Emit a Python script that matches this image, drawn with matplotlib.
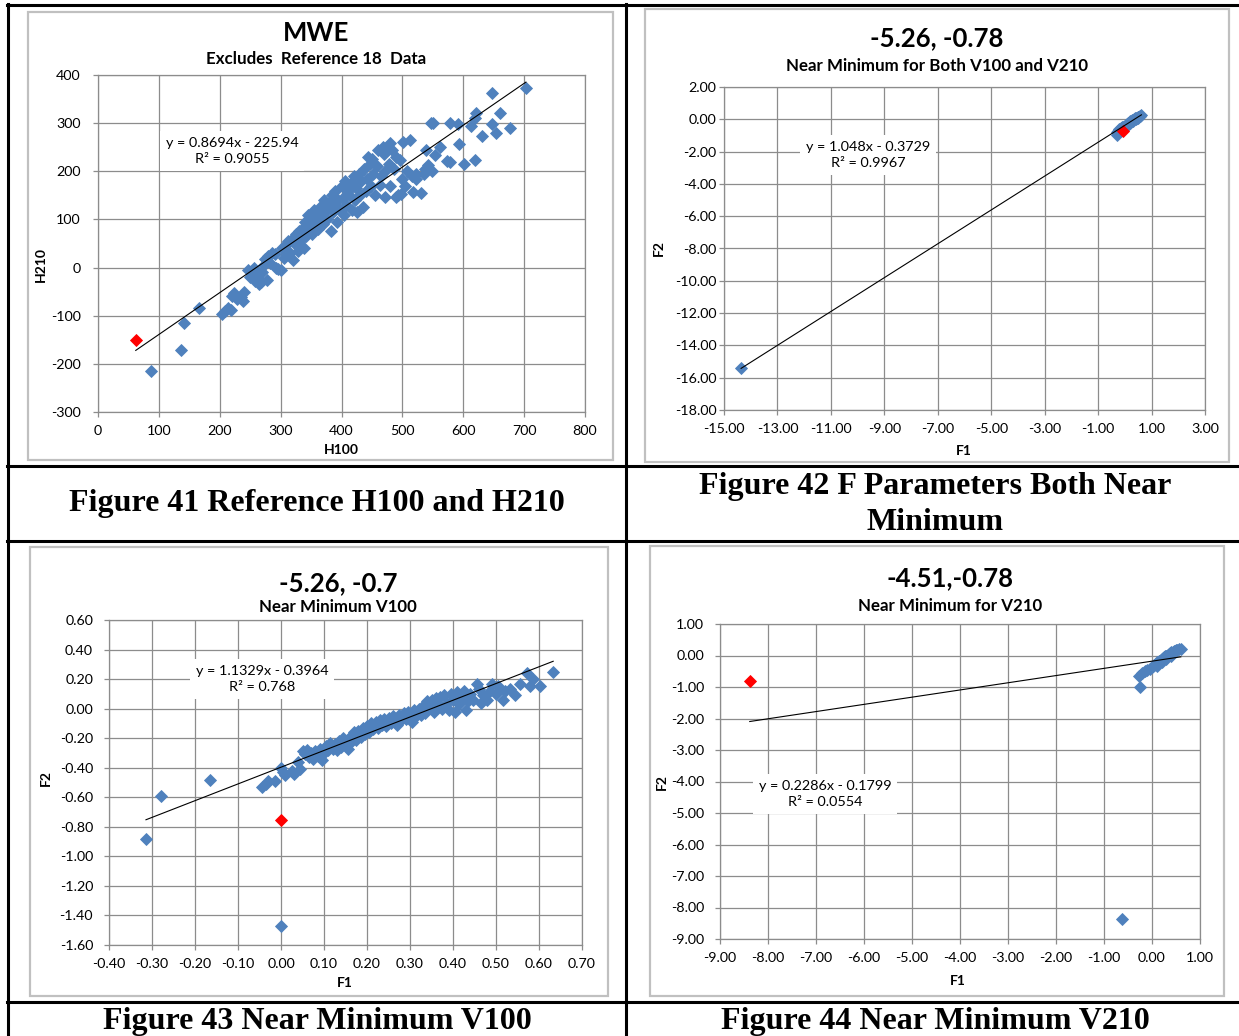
import matplotlib
matplotlib.use("Agg")
import matplotlib.pyplot as plt
from matplotlib.lines import Line2D
from matplotlib.patches import Rectangle
from matplotlib.ticker import FuncFormatter
import numpy as np

W, H = 1239, 1036
BLUE = "#4F81BD"
RED = "#FF0000"
GRID = "#8C8C8C"
BOX = "#C0C0C0"
SANS = ["Lato", "DejaVu Sans"]
SERIF = ["Liberation Serif", "DejaVu Serif"]

# ---------------- Figure 41: H100 vs H210 ----------------
mwe_points = [
    (87, -215), (136, -172), (141, -115), (166, -83),
    (203, -97), (208, -90), (213, -85), (218, -88), (220, -60), (224, -52),
    (228, -65), (235, -62), (240, -50), (238, -70),
    (247, -5), (250, -20), (253, -12), (256, 0), (258, -28), (262, -20),
    (265, -35), (268, -30), (270, -10), (272, 5), (275, 18), (277, -25),
    (280, 25), (283, 10), (286, 30), (290, 28), (293, 0), (296, -3),
    (300, -5), (302, 40), (305, 20), (308, 45), (312, 55), (315, 30),
    (318, 60), (320, 15), (322, 50), (325, 70), (328, 35), (330, 75),
    (332, 55), (335, 80), (338, 40), (340, 95), (342, 65), (345, 110),
    (347, 85), (350, 100), (352, 70), (355, 120), (357, 95), (360, 115),
    (362, 80), (365, 125), (367, 105), (370, 90), (372, 140), (375, 120),
    (377, 100), (380, 135), (382, 75), (384, 150), (386, 115), (388, 130),
    (390, 160), (392, 95), (395, 140), (397, 120), (400, 170), (402, 145),
    (404, 110), (406, 180), (408, 130), (410, 160), (412, 150), (415, 175),
    (417, 120), (420, 190), (422, 140), (424, 165), (426, 115), (428, 195),
    (430, 150), (432, 180), (435, 125), (437, 205), (440, 160), (442, 185),
    (444, 230), (446, 215), (448, 170), (450, 225), (452, 195), (455, 150),
    (458, 210), (460, 244), (463, 171), (465, 190), (468, 251), (470, 235),
    (471, 147), (472, 200), (475, 250), (478, 215), (479, 258), (480, 170),
    (483, 245), (486, 205), (489, 230), (490, 147), (493, 150), (496, 223),
    (497, 152), (500, 185), (501, 261), (505, 170), (508, 200), (512, 266),
    (515, 190), (518, 158), (522, 185), (523, 195), (530, 154), (535, 195),
    (537, 205), (539, 244), (542, 213), (548, 200), (554, 234), (547, 301),
    (550, 301), (562, 251), (574, 222), (578, 220), (579, 301), (592, 299),
    (593, 257), (601, 216), (613, 294), (619, 310), (619, 223), (621, 322),
    (630, 273), (647, 362), (647, 298), (654, 280), (661, 322), (677, 289),
    (703, 373),
]
mwe_ref = [(62, -150)]

# ---------------- Figure 42: F1 vs F2, both near minimum ----------------
both_points = [
    (-14.36, -15.4),
    (-0.30, -0.95), (-0.28, -0.80), (-0.25, -0.70), (-0.20, -0.62),
    (-0.15, -0.55), (-0.10, -0.50), (-0.05, -0.45), (0.00, -0.40),
    (0.05, -0.35), (0.08, -0.30), (0.10, -0.25), (0.15, -0.20),
    (0.18, -0.15), (0.20, -0.12), (0.25, -0.08), (0.28, -0.05),
    (0.30, -0.02), (0.35, 0.02), (0.38, 0.05), (0.40, 0.08),
    (0.45, 0.10), (0.48, 0.12), (0.50, 0.15), (0.55, 0.18),
    (0.58, 0.20), (0.62, 0.24), (0.10, -0.35), (0.20, -0.20),
    (0.30, -0.10), (0.40, 0.00), (0.50, 0.08),
]
both_ref = [(-0.05, -0.75)]

# ---------------- Figure 43: F1 vs F2, near minimum V100 ----------------
v100_points = [
    (-0.314, -0.883), (-0.28, -0.59), (-0.165, -0.48), (0.0, -1.47),
    (-0.045, -0.53), (-0.035, -0.51), (-0.03, -0.49), (-0.015, -0.49),
    (0.0, -0.40), (0.005, -0.43), (0.01, -0.45), (0.025, -0.42),
    (0.03, -0.44), (0.04, -0.36), (0.045, -0.41), (0.05, -0.29),
    (0.055, -0.31), (0.06, -0.28), (0.065, -0.33), (0.07, -0.30),
    (0.075, -0.34), (0.08, -0.29), (0.085, -0.32), (0.09, -0.27),
    (0.095, -0.35), (0.10, -0.30), (0.105, -0.25), (0.11, -0.28),
    (0.115, -0.23), (0.12, -0.27), (0.125, -0.24), (0.13, -0.28),
    (0.135, -0.22), (0.14, -0.26), (0.145, -0.20), (0.15, -0.23),
    (0.155, -0.27), (0.16, -0.19), (0.165, -0.22), (0.17, -0.16),
    (0.175, -0.21), (0.18, -0.15), (0.185, -0.19), (0.19, -0.13),
    (0.195, -0.17), (0.20, -0.12), (0.205, -0.16), (0.21, -0.10),
    (0.215, -0.14), (0.22, -0.09), (0.225, -0.13), (0.23, -0.08),
    (0.235, -0.11), (0.24, -0.07), (0.245, -0.12), (0.25, -0.06),
    (0.255, -0.10), (0.26, -0.05), (0.265, -0.09), (0.27, -0.11),
    (0.275, -0.04), (0.28, -0.08), (0.285, -0.03), (0.29, -0.07),
    (0.295, -0.02), (0.30, -0.06), (0.305, -0.09), (0.31, -0.01),
    (0.315, -0.05), (0.32, 0.00), (0.325, -0.04), (0.33, 0.02),
    (0.335, -0.03), (0.34, 0.05), (0.345, 0.01), (0.35, 0.06),
    (0.355, -0.02), (0.36, 0.07), (0.365, 0.03), (0.37, 0.08),
    (0.375, 0.00), (0.38, 0.09), (0.385, 0.04), (0.39, -0.01),
    (0.395, 0.10), (0.40, 0.06), (0.405, -0.02), (0.41, 0.11),
    (0.415, 0.03), (0.42, 0.08), (0.425, 0.12), (0.43, -0.01),
    (0.435, 0.05), (0.44, 0.10), (0.447, 0.06), (0.455, 0.17),
    (0.46, 0.13), (0.465, 0.04), (0.47, 0.09), (0.478, 0.06),
    (0.485, 0.12), (0.49, 0.17), (0.50, 0.10), (0.505, 0.15),
    (0.517, 0.06), (0.52, 0.12), (0.533, 0.13), (0.545, 0.09),
    (0.555, 0.17), (0.571, 0.24), (0.579, 0.15), (0.585, 0.20),
    (0.602, 0.15), (0.633, 0.25),
]
v100_ref = [(0.0, -0.754)]

# ---------------- Figure 44: F1 vs F2, near minimum V210 ----------------
v210_points = [
    (-0.62, -8.35),
    (-0.25, -1.00), (-0.27, -0.65), (-0.20, -0.55), (-0.15, -0.50),
    (-0.10, -0.45), (-0.05, -0.42), (0.00, -0.38), (0.02, -0.33),
    (0.05, -0.30), (0.08, -0.27), (0.10, -0.22), (0.12, -0.20),
    (0.15, -0.16), (0.18, -0.13), (0.20, -0.10), (0.22, -0.07),
    (0.25, -0.04), (0.28, -0.02), (0.30, 0.00), (0.33, 0.03),
    (0.35, 0.05), (0.38, 0.08), (0.40, 0.10), (0.43, 0.12),
    (0.45, 0.13), (0.48, 0.15), (0.50, 0.16), (0.53, 0.18),
    (0.56, 0.20), (0.60, 0.22), (0.10, -0.32), (0.20, -0.20),
    (0.30, -0.10), (0.40, 0.00),
]
v210_ref = [(-8.38, -0.81)]

fig = plt.figure(figsize=(W / 100, H / 100), dpi=100)
fig.patch.set_facecolor("white")


def fx(px):
    return px / W


def fy(py):
    return 1 - py / H


def hline(x0, x1, y, lw=2.2):
    fig.add_artist(Line2D([fx(x0), fx(x1)], [fy(y), fy(y)], color="black",
                          lw=lw, transform=fig.transFigure, zorder=10))


def vline(x, y0, y1, lw=2.2):
    fig.add_artist(Line2D([fx(x), fx(x)], [fy(y0), fy(y1)], color="black",
                          lw=lw, transform=fig.transFigure, zorder=10))


def tick_formatter(decimals):
    def fmt(v, _pos):
        v = round(v, decimals) + 0.0
        if v == 0:
            v = 0.0
        return f"{v:.{decimals}f}"
    return FuncFormatter(fmt)


def chart(plot_px, box_px, pts, ref, fit, r2, xlim, ylim, xstep, ystep, dec,
          title, subtitle, title_xy, eq_xy, xlab, xlab_xy, ylab, ylab_xy,
          ypad=8.0):
    bx0, by0, bx1, by1 = box_px
    fig.add_artist(Rectangle((fx(bx0), fy(by1)), (bx1 - bx0) / W, (by1 - by0) / H,
                             transform=fig.transFigure, facecolor="white",
                             edgecolor=BOX, lw=1.6, zorder=-1))
    x0, y0, x1, y1 = plot_px
    ax = fig.add_axes([fx(x0), fy(y1), (x1 - x0) / W, (y1 - y0) / H])
    xs = [p[0] for p in pts]
    ys = [p[1] for p in pts]
    ax.plot(xs, ys, linestyle="none", marker="D", ms=5.9, color=BLUE,
            mec=BLUE, mew=0.6, zorder=3)
    ax.plot([p[0] for p in ref], [p[1] for p in ref], linestyle="none",
            marker="D", ms=5.9, color=RED, mec=RED, mew=0.6, zorder=4)
    allx = xs + [p[0] for p in ref]
    lx = np.array([min(allx), max(allx)])
    slope, icpt = fit
    ax.plot(lx, slope * lx + icpt, color="black", lw=0.8, zorder=5)
    ax.set_xlim(*xlim)
    ax.set_ylim(*ylim)
    ax.set_xticks(np.round(np.arange(xlim[0], xlim[1] + xstep / 2, xstep), 6))
    ax.set_yticks(np.round(np.arange(ylim[0], ylim[1] + ystep / 2, ystep), 6))
    ax.xaxis.set_major_formatter(tick_formatter(dec))
    ax.yaxis.set_major_formatter(tick_formatter(dec))
    ax.grid(True, color=GRID, lw=0.9)
    ax.set_axisbelow(True)
    for s in ax.spines.values():
        s.set_color(GRID)
        s.set_linewidth(0.9)
    ax.tick_params(axis="both", direction="out", length=3.5, width=0.9,
                   color=GRID, labelsize=10.3, labelcolor="black")
    ax.tick_params(axis="x", pad=6)
    ax.tick_params(axis="y", pad=ypad)
    for lab in ax.get_xticklabels() + ax.get_yticklabels():
        lab.set_fontfamily(SANS)

    tx, ty, sy = title_xy
    fig.text(fx(tx), fy(ty), title, ha="center", va="center", fontsize=18.5,
             fontweight="bold", family=SANS, zorder=6)
    fig.text(fx(tx), fy(sy), subtitle, ha="center", va="center",
             fontsize=12.2, fontweight="bold", family=SANS, zorder=6)
    ex, ey = eq_xy
    sign = "-" if fit[1] < 0 else "+"
    eq = f"y = {fit[0]:g}x {sign} {abs(fit[1]):g}\nR\u00b2 = {r2:g}"
    fig.text(fx(ex), fy(ey), eq, ha="center", va="center", fontsize=10.4,
             family=SANS, linespacing=1.45, zorder=6,
             bbox=dict(facecolor="white", edgecolor="none", pad=4))
    fig.text(fx(xlab_xy[0]), fy(xlab_xy[1]), xlab, ha="center", va="center",
             fontsize=10, fontweight="bold", family=SANS, zorder=6)
    fig.text(fx(ylab_xy[0]), fy(ylab_xy[1]), ylab, ha="center", va="center",
             rotation=90, fontsize=10, fontweight="bold", family=SANS, zorder=6)
    return ax


chart((98, 75, 585, 412), (28, 12, 613, 460), mwe_points, mwe_ref,
      (0.8694, -225.94), 0.9055, (0, 800), (-300, 400), 100, 100, 0,
      "MWE", "Excludes  Reference 18  Data", (316, 33, 59), (232, 151),
      "H100", (341, 450), "H210", (41, 265), ypad=9)

chart((724, 87, 1205, 410), (645, 9, 1229, 462), both_points, both_ref,
      (1.048, -0.3729), 0.9967, (-15, 3), (-18, 2), 2, 2, 2,
      "-5.26, -0.78", "Near Minimum for Both V100 and V210", (937, 38, 66),
      (868, 155), "F1", (964, 451), "F2", (659, 248), ypad=2)

chart((109, 620, 582, 945), (30, 547, 608, 996), v100_points, v100_ref,
      (1.1329, -0.3964), 0.768, (-0.4, 0.7), (-1.6, 0.6), 0.1, 0.2, 2,
      "-5.26, -0.7", "Near Minimum V100", (338, 583, 607), (262, 679),
      "F1", (345, 983), "F2", (46, 778), ypad=8)

chart((720, 624, 1200, 939), (650, 546, 1224, 996), v210_points, v210_ref,
      (0.2286, -0.1799), 0.0554, (-9, 1), (-9, 1), 1, 1, 2,
      "-4.51,-0.78", "Near Minimum for V210", (950, 578, 606), (825, 794),
      "F1", (958, 981), "F2", (662, 782), ypad=8)

# Table rules and captions
hline(7, W, 5)
hline(7, W, 466)
hline(7, W, 541)
hline(7, W, 1002)
vline(8, 4, H)
vline(626, 4, H)

cap = dict(ha="center", va="center", fontsize=23, fontweight="bold",
           family=SERIF, zorder=11)
fig.text(fx(317), fy(503), "Figure 41 Reference H100 and H210", **cap)
fig.text(fx(935), fy(486), "Figure 42 F Parameters Both Near", **cap)
fig.text(fx(935), fy(522), "Minimum", **cap)
fig.text(fx(317), fy(1022), "Figure 43 Near Minimum V100", **cap)
fig.text(fx(935), fy(1022), "Figure 44 Near Minimum V210", **cap)

fig.savefig("out.png", dpi=100, facecolor="white")
